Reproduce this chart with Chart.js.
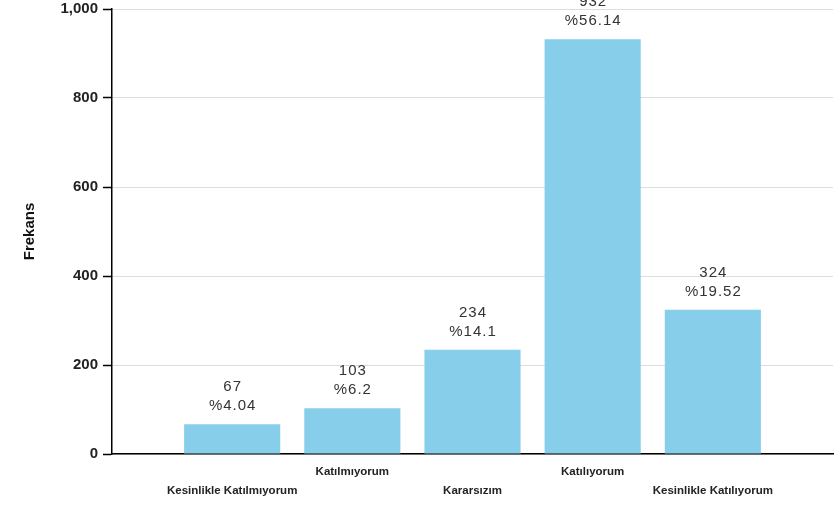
<!DOCTYPE html>
<html>
<head>
<meta charset="utf-8">
<script src="https://cdn.jsdelivr.net/npm/chart.js@4/dist/chart.umd.min.js"></script>
<style>
  html, body { margin: 0; padding: 0; background: #ffffff; }
  #wrap { position: relative; width: 836px; height: 505px; }
</style>
</head>
<body>
<div id="wrap"><canvas id="c"></canvas></div>
<script>
const categories = ['Kesinlikle Katılmıyorum', 'Katılmıyorum', 'Kararsızım', 'Katılıyorum', 'Kesinlikle Katılıyorum'];
const frequencies = [67, 103, 234, 932, 324];
const percents = ['4.04', '6.2', '14.1', '56.14', '19.52'];
const yTicks = [0, 200, 400, 600, 800, 1000];
const yTitle = 'Frekans';

const labels = [''].concat(categories, ['']);
const values = [null].concat(frequencies, [null]);
const pctLabels = [null].concat(percents, [null]);

const valueLabels = {
  id: 'valueLabels',
  afterDatasetsDraw(chart) {
    const ctx = chart.ctx;
    const meta = chart.getDatasetMeta(0);
    ctx.save();
    ctx.font = '15px "Liberation Sans", Arial, sans-serif';
    ctx.fillStyle = '#333333';
    ctx.textAlign = 'center';
    ctx.textBaseline = 'middle';
    try { ctx.letterSpacing = '1px'; } catch (e) {}
    meta.data.forEach((bar, i) => {
      const v = values[i];
      if (v === null || v === undefined) return;
      ctx.fillText(String(v), bar.x + 0.5, bar.y - 37);
      ctx.fillText('%' + pctLabels[i], bar.x + 0.5, bar.y - 18);
    });
    ctx.restore();
  }
};

new Chart(document.getElementById('c'), {
  type: 'bar',
  data: {
    labels: labels,
    datasets: [{
      data: values,
      backgroundColor: '#87CEEB',
      borderWidth: 0,
      barPercentage: 0.8,
      categoryPercentage: 1.0
    }]
  },
  options: {
    responsive: true,
    maintainAspectRatio: false,
    animation: false,
    layout: { padding: { top: 9, right: 3, bottom: 0, left: 0 } },
    plugins: {
      legend: { display: false },
      tooltip: { enabled: false }
    },
    scales: {
      x: {
        type: 'category',
        offset: false,
        afterFit: (scale) => { scale.height = 51; scale.paddingLeft = 0; scale.paddingRight = 0; },
        grid: { display: true, color: 'rgba(0,0,0,0)', drawTicks: false },
        border: { display: true, color: '#000000', width: 1.5 },
        ticks: {
          autoSkip: false,
          maxRotation: 0,
          minRotation: 0,
          padding: 9,
          color: '#222222',
          font: { family: '"Liberation Sans", Arial, sans-serif', size: 11.5, weight: 'bold', lineHeight: 1.6 },
          callback: function (value, index) {
            const lbl = this.getLabelForValue(value);
            if (!lbl) return '';
            return (index % 2 === 1) ? ['', lbl] : lbl;
          }
        }
      },
      y: {
        min: 0,
        max: 1000,
        afterBuildTicks: (scale) => { scale.ticks = yTicks.map(v => ({ value: v })); },
        afterFit: (scale) => { scale.width = 112; scale.paddingTop = 0; scale.paddingBottom = 0; },
        grid: { color: '#dddddd', lineWidth: 1, tickColor: '#000000', tickLength: 9, tickWidth: 1.5 },
        border: { display: true, color: '#000000', width: 1.5 },
        ticks: {
          padding: 5,
          color: '#222222',
          font: { family: '"Liberation Sans", Arial, sans-serif', size: 15, weight: 'bold' },
          callback: (v) => Number(v).toLocaleString('en-US')
        },
        title: {
          display: true,
          text: yTitle,
          color: '#111111',
          font: { family: '"Liberation Sans", Arial, sans-serif', size: 15, weight: 'bold' },
          padding: { top: 21, bottom: 0 }
        }
      }
    }
  },
  plugins: [valueLabels]
});
</script>
</body>
</html>
